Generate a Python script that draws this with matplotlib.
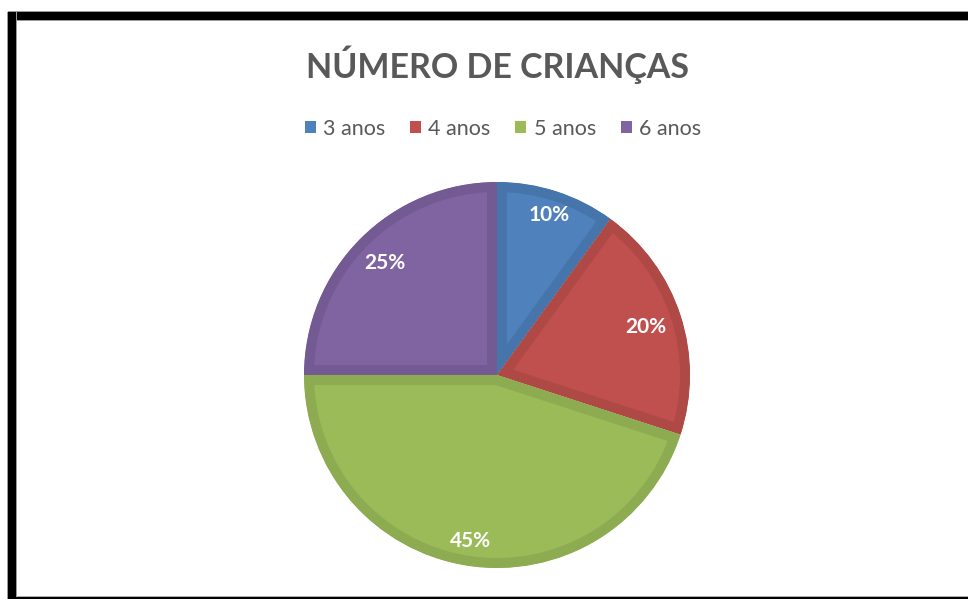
import numpy as np
import matplotlib
matplotlib.use("Agg")
import matplotlib.pyplot as plt
from matplotlib.patches import Rectangle, Patch

# dados do gráfico
categorias = ['3 anos', '4 anos', '5 anos', '6 anos']
valores = [10, 20, 45, 25]
cores = ['#4F81BD', '#C0504D', '#9BBB59', '#8064A2']
cores_borda = ['#4675AC', '#AF4946', '#8DAB50', '#745A93']
titulo = 'NÚMERO DE CRIANÇAS'

plt.rcParams['font.family'] = ['Lato', 'DejaVu Sans']

W, H = 968, 599
fig = plt.figure(figsize=(W / 100, H / 100), dpi=100)
fig.patch.set_facecolor('white')

# moldura preta (cima, esquerda, baixo)
def ret(x0, y0, x1, y1, cor):
    fig.add_artist(Rectangle((x0 / W, 1 - y1 / H), (x1 - x0) / W, (y1 - y0) / H,
                             transform=fig.transFigure, facecolor=cor,
                             edgecolor='none', zorder=5))

ret(8, 11, W, 21, '#9a9a9a')
ret(8, 12, W, 20, 'black')
ret(7, 12, 17, H, '#9a9a9a')
ret(8, 12, 16, H, 'black')
ret(16, 595.5, W, 597, '#b0b0b0')
ret(8, 597, W, H, 'black')

# eixo da pizza: centro (497, 375), raio 193 px
cx, cy, r = 497, 375, 193
half = 200
ax = fig.add_axes([(cx - half) / W, (H - cy - half) / H, 2 * half / W, 2 * half / H])
wedges, _ = ax.pie(valores, colors=cores, startangle=90, counterclock=False,
                   radius=r, center=(0, 0),
                   wedgeprops=dict(linewidth=14.4, antialiased=True))
# borda mais escura só do lado de dentro de cada fatia
for w, cb in zip(wedges, cores_borda):
    w.set_edgecolor(cb)
    w.set_clip_on(True)
    w.set_clip_path(w)
ax.set_xlim(-half, half)
ax.set_ylim(-half, half)
ax.set_aspect('equal')
ax.axis('off')

# rótulos de porcentagem
total = sum(valores)
dist = [0.87, 0.81, 0.87, 0.82]
for w, v, d in zip(wedges, valores, dist):
    ang = np.deg2rad((w.theta1 + w.theta2) / 2)
    ax.text(d * r * np.cos(ang), d * r * np.sin(ang), f'{v / total:.0%}',
            ha='center', va='center', color='white', fontsize=15,
            fontweight='bold')

# título
fig.text(cx / W, 1 - 65 / H, titulo, ha='center', va='center',
         fontsize=24.5, fontweight='bold', color='#595959')

# legenda
handles = [Patch(facecolor=c, edgecolor='none') for c in cores]
fig.legend(handles, categorias, loc='center', bbox_to_anchor=(503 / W, 1 - 129 / H),
           ncol=4, frameon=False, fontsize=15.5, labelcolor='#595959',
           handlelength=0.5, handleheight=0.5, handletextpad=0.35,
           columnspacing=1.15)

fig.savefig('out.png', dpi=100)
